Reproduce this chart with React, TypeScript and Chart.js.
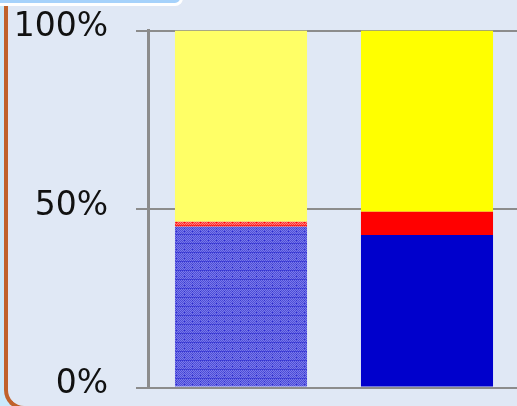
import React, { useEffect, useRef } from "react";
import { Chart, registerables } from "chart.js";

Chart.register(...registerables);

// Two stacked 100% columns: the first drawn with textured fills, the second solid
const categories = ["Textured", "Solid"];
const blueShare = [45.0, 42.7];
const redShare = [1.4, 6.5];
const yellowShare = [53.6, 50.8];
const yTicks = [0, 50, 100];

// Small checkered tile with a faint seam every few rows
function makeTile(
  w: number,
  h: number,
  light: string,
  dark: string,
  line: string
): CanvasPattern | string {
  const c = document.createElement("canvas");
  c.width = w;
  c.height = h;
  const g = c.getContext("2d");
  if (!g) return light;
  for (let y = 0; y < h; y++) {
    for (let x = 0; x < w; x++) {
      g.fillStyle = (x + y) % 2 === 0 ? light : dark;
      if ((y === 0 && x % 2 === 0) || (x === 0 && y % 3 === 0)) g.fillStyle = line;
      g.fillRect(x, y, 1, 1);
    }
  }
  const p = g.createPattern(c, "repeat");
  return p || light;
}

export default function App() {
  const ref = useRef<HTMLCanvasElement | null>(null);

  useEffect(() => {
    if (!ref.current) return;
    const bluePattern = makeTile(8, 9, "#7a7ae8", "#4c4cda", "#3232d0");
    const redPattern = makeTile(8, 9, "#ff8080", "#ff3030", "#ff1010");

    const chart = new Chart(ref.current, {
      type: "bar",
      data: {
        labels: categories,
        datasets: [
          {
            label: "Blue",
            data: blueShare,
            backgroundColor: [bluePattern as any, "#0000cc"],
            borderWidth: 0,
          },
          {
            label: "Red",
            data: redShare,
            backgroundColor: [redPattern as any, "#ff0000"],
            borderWidth: 0,
          },
          {
            label: "Yellow",
            data: yellowShare,
            backgroundColor: ["#ffff66", "#ffff00"],
            borderWidth: 0,
          },
        ],
      },
      options: {
        responsive: false,
        animation: false,
        layout: { padding: { top: 30.5, bottom: 18.5, left: 0, right: 10 } },
        plugins: {
          legend: { display: false },
          tooltip: { enabled: false },
        },
        datasets: {
          bar: { categoryPercentage: 1, barPercentage: 0.71 },
        },
        scales: {
          x: {
            stacked: true,
            display: false,
          },
          y: {
            stacked: true,
            min: 0,
            max: 100,
            afterBuildTicks: (scale: any) => {
              scale.ticks = yTicks.map((v) => ({ value: v }));
            },
            afterFit: (scale: any) => {
              scale.width = 148;
              scale.paddingTop = 0;
              scale.paddingBottom = 0;
            },
            border: { display: true, color: "#8c8c8c", width: 3 },
            grid: {
              color: "#8c8c8c",
              lineWidth: 2,
              tickLength: 12,
              drawTicks: true,
            },
            ticks: {
              padding: 28,
              labelOffset: -3,
              color: "#111111",
              font: { family: "'DejaVu Sans', Verdana, sans-serif", size: 33 },
              callback: (v: any) => `${v}%`,
            },
          },
        },
      },
    });
    return () => chart.destroy();
  }, []);

  return (
    <div
      style={{
        position: "fixed",
        left: 0,
        top: 0,
        width: 517,
        height: 406,
        overflow: "hidden",
        background: "#cbe9fb",
      }}
    >
      <div
        style={{
          position: "absolute",
          left: 4,
          top: -10,
          width: 620,
          height: 420,
          boxSizing: "border-box",
          background: "#e0e8f5",
          borderLeft: "4px solid #c0622c",
          borderBottom: "4px solid #c0622c",
          borderBottomLeftRadius: 20,
        }}
      />
      <canvas
        ref={ref}
        width={530}
        height={406}
        style={{ position: "absolute", left: 0, top: 0, width: 530, height: 406 }}
      />
      <div
        style={{
          position: "absolute",
          left: -10,
          top: -10,
          width: 193,
          height: 16,
          boxSizing: "border-box",
          background: "#a6d2fb",
          border: "3px solid #ffffff",
          borderRadius: 10,
        }}
      />
    </div>
  );
}
